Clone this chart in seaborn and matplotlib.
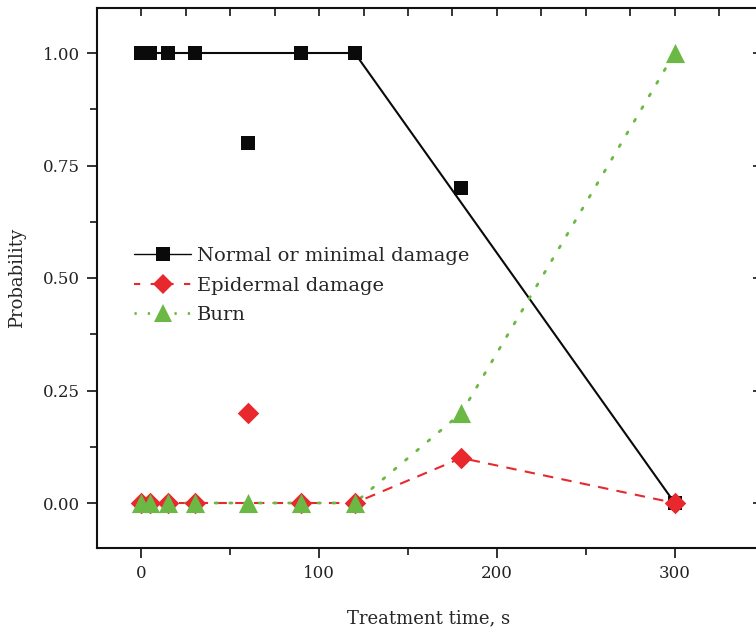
import numpy as np
import matplotlib
matplotlib.use("Agg")
import matplotlib.pyplot as plt
import seaborn as sns
from matplotlib.lines import Line2D
from matplotlib.ticker import MultipleLocator

# measured points
times = [0, 5, 15, 30, 60, 90, 120, 180, 300]
normal = [1, 1, 1, 1, 0.8, 1, 1, 0.7, 0]
epidermal = [0, 0, 0, 0, 0.2, 0, 0, 0.1, 0]
burn = [0, 0, 0, 0, 0, 0, 0, 0.2, 1]

# trend lines
trend_t_normal = [0, 120, 300]
trend_normal = [1, 1, 0]
trend_t = [0, 120, 180, 300]
trend_epidermal = [0, 0, 0.1, 0]
trend_burn = [0, 0, 0.2, 1]

labels = ["Normal or minimal damage", "Epidermal damage", "Burn"]
BLACK = "#0a0a0a"
RED = "#e8282c"
GREEN = "#6cb844"

sns.set_style("ticks")
plt.rcParams['font.family'] = ['DejaVu Serif']

fig = plt.figure(figsize=(7.56, 6.29), dpi=100)
ax = fig.add_axes([97 / 756, 81 / 629, 663 / 756, 540 / 629])

sns.lineplot(x=trend_t_normal, y=trend_normal, ax=ax, color=BLACK, lw=1.5, zorder=2)
sns.lineplot(x=trend_t, y=trend_epidermal, ax=ax, color=RED, lw=1.5, zorder=2)
ax.lines[-1].set_dashes([5, 4])
sns.lineplot(x=trend_t, y=trend_burn, ax=ax, color=GREEN, lw=2, zorder=2)
ax.lines[-1].set_dashes([0.8, 4.5])
ax.lines[-1].set_dash_capstyle("round")

sns.scatterplot(x=times, y=normal, ax=ax, marker="s", color=BLACK, s=115,
                linewidth=0, zorder=3)
sns.scatterplot(x=times, y=epidermal, ax=ax, marker="D", color=RED, s=120,
                linewidth=0, zorder=4)
sns.scatterplot(x=times, y=burn, ax=ax, marker="^", color=GREEN, s=190,
                linewidth=0, zorder=5)

ax.set_xlim(-25, 348)
ax.set_ylim(-0.1, 1.1)
ax.xaxis.set_major_locator(MultipleLocator(100))
ax.xaxis.set_minor_locator(MultipleLocator(50))
ax.yaxis.set_major_locator(MultipleLocator(0.25))
ax.yaxis.set_minor_locator(MultipleLocator(0.125))
ax.yaxis.set_major_formatter(matplotlib.ticker.FormatStrFormatter("%.2f"))

ax.tick_params(which="major", direction="out", length=7, width=1.3,
               labelsize=12, colors="#222222", pad=5)
ax.tick_params(which="minor", direction="out", length=5, width=1.3)
for sp in ax.spines.values():
    sp.set_linewidth(1.5)
    sp.set_color("#111111")

# top ticks every 25 and right ticks at the majors, pointing inward
top = ax.secondary_xaxis("top")
top.set_xticks(np.arange(0, 326, 25))
top.tick_params(direction="in", length=6, width=1.3, labeltop=False)
top.spines["top"].set_visible(False)
right = ax.secondary_yaxis("right")
right.set_yticks([0, 0.25, 0.5, 0.75, 1.0])
right.tick_params(direction="in", length=5, width=1.3, labelright=False)
right.spines["right"].set_visible(False)

ax.set_xlabel("Treatment time, s", fontsize=13, labelpad=20)
ax.set_ylabel("Probability", fontsize=13, labelpad=12)

handles = [
    Line2D([], [], color=BLACK, lw=1, marker="s", markersize=10, linestyle="-",
           markeredgewidth=0),
    Line2D([], [], color=RED, lw=1.5, marker="D", markersize=10, linestyle=(0, (3, 5)),
           markeredgewidth=0),
    Line2D([], [], color=GREEN, lw=2, marker="^", markersize=13, linestyle=(0, (0.8, 4)),
           markeredgewidth=0),
]
ax.legend(handles, labels, loc="upper left", bbox_to_anchor=(0.03, 0.59),
          frameon=False, fontsize=14, handlelength=2.9, handletextpad=0.3,
          labelspacing=0.6)

fig.savefig("out.png", dpi=100)
